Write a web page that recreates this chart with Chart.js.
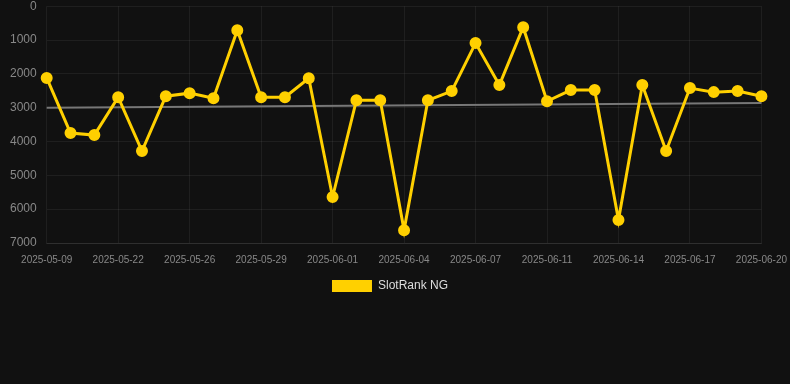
<!DOCTYPE html>
<html>
<head>
<meta charset="utf-8">
<script src="https://cdn.jsdelivr.net/npm/chart.js@4"></script>
<style>
html,body{margin:0;padding:0;background:#111111;overflow:hidden;}
#wrap{width:798px;height:313px;position:relative;margin-top:-11px;}
</style>
</head>
<body>
<div id="wrap"><canvas id="c"></canvas></div>
<script>
const labels = ["2025-05-09","2025-05-14","2025-05-18","2025-05-22","2025-05-23","2025-05-24","2025-05-26","2025-05-27","2025-05-28","2025-05-29","2025-05-30","2025-05-31","2025-06-01","2025-06-02","2025-06-03","2025-06-04","2025-06-05","2025-06-06","2025-06-07","2025-06-08","2025-06-10","2025-06-11","2025-06-12","2025-06-13","2025-06-14","2025-06-15","2025-06-16","2025-06-17","2025-06-18","2025-06-19","2025-06-20"];
const rankValues = [2120,3750,3810,2690,4280,2660,2570,2720,710,2690,2690,2130,5640,2780,2780,6620,2780,2510,1090,2330,620,2810,2480,2480,6320,2330,4280,2420,2540,2510,2660];
const trendValues = [3000,null,null,null,null,null,null,null,null,null,null,null,null,null,null,null,null,null,null,null,null,null,null,null,null,null,null,null,null,null,2860];
const yTicks = [0,1000,2000,3000,4000,5000,6000,7000];

new Chart(document.getElementById('c'), {
  type: 'line',
  data: {
    labels: labels,
    datasets: [
      {
        label: 'SlotRank NG',
        data: rankValues,
        borderColor: '#FFD000',
        backgroundColor: '#FFD000',
        borderWidth: 3,
        pointRadius: 4.5,
        pointHoverRadius: 4.5,
        pointBackgroundColor: '#FFD000',
        pointBorderColor: '#FFD000',
        tension: 0,
        order: 1
      },
      {
        label: 'trend',
        data: trendValues,
        borderColor: '#777777',
        borderWidth: 2,
        pointRadius: 0,
        spanGaps: true,
        order: 2
      }
    ]
  },
  options: {
    responsive: true,
    maintainAspectRatio: false,
    animation: false,
    layout: { padding: { right: 18 } },
    plugins: {
      legend: {
        position: 'bottom',
        labels: {
          color: '#dddddd',
          boxWidth: 40,
          boxHeight: 12,
          padding: 3,
          font: { size: 12 },
          filter: (item) => item.text !== 'trend',
          generateLabels: (chart) => Chart.defaults.plugins.legend.labels.generateLabels(chart).map(it => Object.assign(it, { lineWidth: 0, fontColor: '#dddddd' }))
        }
      },
      tooltip: { enabled: false }
    },
    scales: {
      x: {
        grid: { color: 'rgba(255,255,255,0.06)', drawTicks: false },
        border: { color: 'rgba(255,255,255,0.08)' },
        ticks: {
          color: '#888888',
          font: { size: 10 },
          autoSkip: false,
          maxRotation: 0,
          padding: 11,
          callback: function(v, i) { return i % 3 === 0 ? labels[i] : null; }
        }
      },
      y: {
        reverse: true,
        min: 0,
        max: 7000,
        grid: { color: 'rgba(255,255,255,0.06)', drawTicks: false },
        border: { display: false },
        afterBuildTicks: (axis) => { axis.ticks = yTicks.map(v => ({ value: v })); },
        ticks: {
          color: '#888888',
          font: { size: 12 },
          padding: 10,
          callback: (v) => String(v)
        }
      }
    }
  }
});
</script>
</body>
</html>
